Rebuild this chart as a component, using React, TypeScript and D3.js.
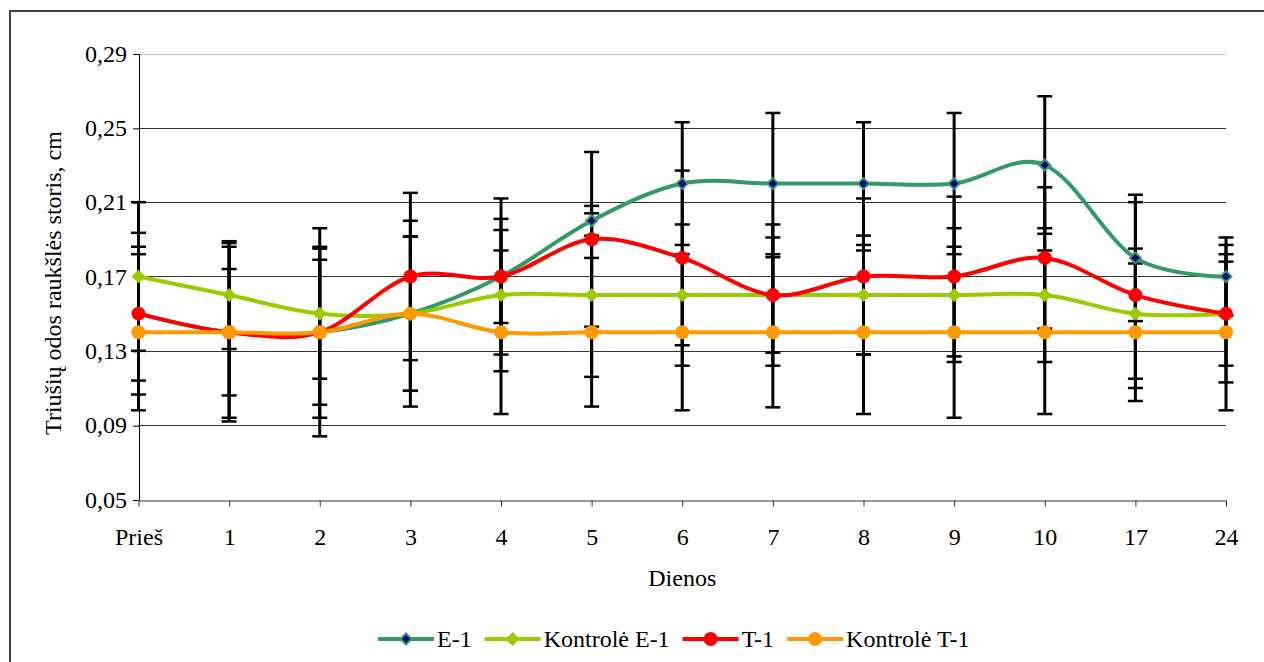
import React, { useEffect, useRef } from 'react';
import * as d3 from 'd3';

// Categories (days)
const categories = ['Prieš', '1', '2', '3', '4', '5', '6', '7', '8', '9', '10', '17', '24'];

// Series means
const e1 = [0.15, 0.14, 0.14, 0.15, 0.17, 0.20, 0.22, 0.22, 0.22, 0.22, 0.23, 0.18, 0.17];
const kontroleE1 = [0.17, 0.16, 0.15, 0.15, 0.16, 0.16, 0.16, 0.16, 0.16, 0.16, 0.16, 0.15, 0.15];
const t1 = [0.15, 0.14, 0.14, 0.17, 0.17, 0.19, 0.18, 0.16, 0.17, 0.17, 0.18, 0.16, 0.15];
const kontroleT1 = [0.14, 0.14, 0.14, 0.15, 0.14, 0.14, 0.14, 0.14, 0.14, 0.14, 0.14, 0.14, 0.14];

// Standard deviations (error bars)
const e1Err = [0.036, 0.048, 0.056, 0.05, 0.042, 0.008, 0.033, 0.038, 0.033, 0.038, 0.037, 0.034, 0.021];
const kontroleE1Err = [0.04, 0.029, 0.035, 0.0415, 0.041, 0.044, 0.038, 0.031, 0.032, 0.036, 0.036, 0.035, 0.037];
const t1Err = [0.0435, 0.046, 0.046, 0.045, 0.025, 0.047, 0.047, 0.038, 0.042, 0.043, 0.038, 0.05, 0.028];
const kontroleT1Err = [0.042, 0.034, 0.039, 0.0415, 0.044, 0.04, 0.042, 0.0404, 0.044, 0.046, 0.044, 0.037, 0.042];

const yTicks = [0.05, 0.09, 0.13, 0.17, 0.21, 0.25, 0.29];

const series = [
  { name: 'E-1', values: e1, errors: e1Err, color: '#339966', marker: 'diamond', fill: '#000080', size: 5.5 },
  { name: 'Kontrolė E-1', values: kontroleE1, errors: kontroleE1Err, color: '#99cc00', marker: 'diamond', fill: '#99cc00', size: 6.5 },
  { name: 'T-1', values: t1, errors: t1Err, color: '#ff0000', marker: 'circle', fill: '#ff0000', size: 7 },
  { name: 'Kontrolė T-1', values: kontroleT1, errors: kontroleT1Err, color: '#ff9900', marker: 'circle', fill: '#ff9900', size: 7 },
];

const FONT = 'Liberation Serif, Times New Roman, DejaVu Serif, serif';

const App = () => {
  const svgRef = useRef<SVGSVGElement>(null);

  useEffect(() => {
    const svg = d3.select(svgRef.current);
    svg.selectAll('*').remove();

    const W = 1264;
    const H = 662;

    // Outer chart border
    svg.append('rect')
      .attr('x', 10).attr('y', 11)
      .attr('width', W + 20).attr('height', H + 20)
      .attr('fill', 'white')
      .attr('stroke', '#404040')
      .attr('stroke-width', 2);

    const xScale = d3.scalePoint<string>()
      .domain(categories)
      .range([138.5, 1226]);

    const yScale = d3.scaleLinear()
      .domain([0.05, 0.29])
      .range([499.5, 53.5]);

    const [xMin, xMax] = xScale.range();

    // Gridlines
    svg.append('g')
      .selectAll('line')
      .data(yTicks.filter(t => t > 0.05))
      .join('line')
      .attr('x1', xMin).attr('x2', xMax)
      .attr('y1', d => Math.round(yScale(d)) + 0.5)
      .attr('y2', d => Math.round(yScale(d)) + 0.5)
      .attr('stroke', d => (d === 0.29 ? '#c4c4c4' : '#333'))
      .attr('stroke-width', 1);

    // Y axis
    const yAxis = svg.append('g')
      .attr('transform', `translate(${xMin + 0.5},0)`)
      .call(d3.axisLeft(yScale).tickValues(yTicks).tickSize(6).tickSizeOuter(0)
        .tickFormat(d => d3.format('.2f')(d as number).replace('.', ',')));
    yAxis.attr('font-family', FONT).attr('font-size', 24);
    yAxis.select('.domain').attr('stroke', '#000');
    yAxis.selectAll('.tick line').attr('stroke', '#000').attr('transform', 'translate(0,0.5)');
    yAxis.selectAll('.tick text')
      .attr('x', -12)
      .attr('fill', '#000');

    // X axis
    const xAxis = svg.append('g')
      .attr('transform', `translate(0,${Math.round(yScale(0.05)) + 0.5})`)
      .call(d3.axisBottom(xScale).tickSize(6).tickSizeOuter(0));
    xAxis.attr('font-family', FONT).attr('font-size', 24);
    xAxis.select('.domain').attr('stroke', '#333');
    xAxis.selectAll('.tick line').attr('stroke', '#333');
    xAxis.selectAll('.tick text')
      .attr('y', 45 - 0.5)
      .attr('dy', 0)
      .attr('fill', '#000');

    // Axis titles
    svg.append('text')
      .attr('x', (xMin + xMax) / 2)
      .attr('y', 586)
      .attr('text-anchor', 'middle')
      .attr('font-family', FONT)
      .attr('font-size', 24)
      .text('Dienos');

    svg.append('text')
      .attr('transform', `translate(53, 283) rotate(-90)`)
      .attr('text-anchor', 'middle')
      .attr('dominant-baseline', 'central')
      .attr('font-family', FONT)
      .attr('font-size', 24)
      .attr('fill', '#000')
      .text('Triušių odos raukšlės storis, cm');

    // Error bars (drawn under the lines)
    const errG = svg.append('g');
    const capHalf = 7.5;
    series.forEach(s => {
      s.values.forEach((v, i) => {
        const x = xScale(categories[i])!;
        const yTop = yScale(v + s.errors[i]);
        const yBot = yScale(v - s.errors[i]);
        errG.append('line')
          .attr('x1', x).attr('x2', x).attr('y1', yTop).attr('y2', yBot)
          .attr('stroke', '#000').attr('stroke-width', 3);
        [yTop, yBot].forEach(yy => {
          errG.append('line')
            .attr('x1', x - capHalf).attr('x2', x + capHalf)
            .attr('y1', yy).attr('y2', yy)
            .attr('stroke', '#000').attr('stroke-width', 2.5);
        });
      });
    });

    // Smoothed lines
    const line = d3.line<number>()
      .x((d, i) => xScale(categories[i])!)
      .y(d => yScale(d))
      .curve(d3.curveCardinal.tension(0));

    const drawMarker = (g: any, s: any, x: number, y: number) => {
      if (s.marker === 'diamond') {
        const r = s.size;
        g.append('path')
          .attr('d', `M${x},${y - r}L${x + r},${y}L${x},${y + r}L${x - r},${y}Z`)
          .attr('fill', s.fill)
          .attr('stroke', s.color)
          .attr('stroke-width', s.fill === s.color ? 1 : 2);
      } else {
        g.append('circle')
          .attr('cx', x).attr('cy', y).attr('r', s.size)
          .attr('fill', s.fill);
      }
    };

    series.forEach(s => {
      const g = svg.append('g');
      g.append('path')
        .datum(s.values)
        .attr('fill', 'none')
        .attr('stroke', s.color)
        .attr('stroke-width', 4)
        .attr('d', line);
      s.values.forEach((v, i) => drawMarker(g, s, xScale(categories[i])!, yScale(v)));
    });

    // Legend
    const legend = svg.append('g');
    const legendY = 639;
    let lx = 378;
    series.forEach(s => {
      legend.append('line')
        .attr('x1', lx).attr('x2', lx + 56)
        .attr('y1', legendY).attr('y2', legendY)
        .attr('stroke', s.color).attr('stroke-width', 4);
      drawMarker(legend, s, lx + 28, legendY);
      const txt = legend.append('text')
        .attr('x', lx + 59)
        .attr('y', legendY + 8)
        .attr('font-family', FONT)
        .attr('font-size', 24)
        .text(s.name);
      const w = (txt.node() as SVGTextElement).getComputedTextLength();
      lx += 59 + w + 13;
    });
  }, []);

  return (
    <svg
      ref={svgRef}
      width={1264}
      height={662}
      style={{ position: 'absolute', left: 0, top: 0, background: 'white' }}
    />
  );
};

export default App;
